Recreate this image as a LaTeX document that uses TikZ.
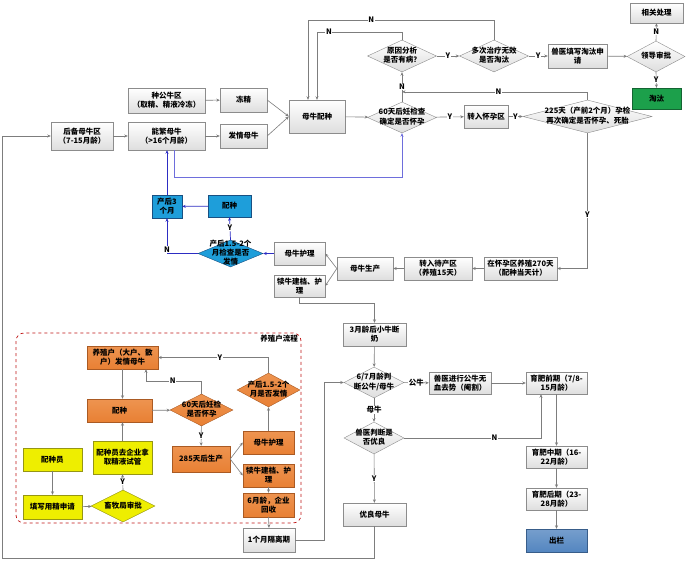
\documentclass[tikz,border=0pt]{standalone}
\usepackage{fontspec}
\newfontfamily\cjk{Noto Sans CJK SC}
\usetikzlibrary{shapes.geometric,arrows.meta,calc}
\definecolor{boxb}{RGB}{140,140,140}
\definecolor{boxg}{RGB}{222,222,222}
\definecolor{conc}{RGB}{125,125,125}
\definecolor{orF}{RGB}{232,128,52}
\definecolor{orT}{RGB}{238,148,80}
\definecolor{orB}{RGB}{170,90,35}
\definecolor{yeF}{RGB}{238,238,0}
\definecolor{yeB}{RGB}{150,150,20}
\definecolor{cyF}{RGB}{30,158,218}
\definecolor{cyB}{RGB}{25,80,130}
\definecolor{grF}{RGB}{28,160,75}
\definecolor{grB}{RGB}{20,100,50}
\definecolor{blF}{RGB}{84,134,192}
\definecolor{blB}{RGB}{56,93,138}
\definecolor{bcon}{RGB}{45,45,195}
\definecolor{bcon2}{RGB}{110,110,220}
\definecolor{dred}{RGB}{192,20,20}
\newcommand\dtx[1]{\smash{\raisebox{-0.25em}{\makebox[0pt]{\begin{tabular}{@{}c@{}}#1\end{tabular}}}}}
\tikzset{
  txt/.style={font=\cjk\bfseries\fontsize{7.5}{9}\selectfont},
  sz/.style 2 args={minimum width=#1,minimum height=#2},
  gbox/.style={txt,align=center,inner sep=1pt,draw=boxb,top color=white,bottom color=boxg},
  obox/.style={txt,align=center,inner sep=1pt,draw=orB,top color=orT,bottom color=orF},
  ybox/.style={txt,align=center,inner sep=1pt,draw=yeB,fill=yeF},
  cbox/.style={txt,align=center,inner sep=1pt,draw=cyB,fill=cyF},
  dia/.style={txt,shape=diamond,inner sep=0pt,draw=boxb,top color=white,bottom color=boxg},
  odia/.style={txt,shape=diamond,inner sep=0pt,draw=orB,top color=orT,bottom color=orF},
  ydia/.style={txt,shape=diamond,inner sep=0pt,draw=yeB,fill=yeF},
  cdia/.style={txt,shape=diamond,inner sep=0pt,draw=cyB,fill=cyF},
  con/.style={draw=conc,line width=0.6pt,-{Stealth[length=3.5pt,width=3pt]}},
  bc/.style={draw=bcon,line width=0.7pt,-{Stealth[length=3.5pt,width=3pt]}},
  bc2/.style={draw=bcon2,line width=0.8pt,-{Stealth[length=3.5pt,width=3pt]}},
  lab/.style={txt,fill=white,inner sep=0.6pt,text=black},
  blab/.style={txt,inner sep=0.6pt,text=black},
}
\begin{document}
\begin{tikzpicture}[x=1pt,y=-1pt]
\fill[white] (0,0) rectangle (686,562);
\useasboundingbox (0,0) rectangle (686,562);
% region
\draw[dred,dashed,line width=0.7pt,rounded corners=8] (16,333) rectangle (301,523);
\node[txt,anchor=north east,inner sep=1pt] (reglab) at (299,334) {养殖户流程};
% top part
\node[gbox,sz={77}{25}] (zhonggong) at (166.5,100.5) {种公牛区\\（取精、精液冷冻）};
\node[gbox,sz={47}{24}] (dongjing) at (243.5,100) {冻精};
\node[gbox,sz={62}{28}] (houbei) at (82,136) {后备母牛区\\（7-15月龄）};
\node[gbox,sz={77}{28}] (nengfan) at (166.5,136) {能繁母牛\\（>16个月龄）};
\node[gbox,sz={47}{24}] (faqing) at (243.5,136) {发情母牛};
\node[gbox,sz={56}{33}] (peizhong) at (317,116.5) {母牛配种};
\node[dia,sz={69}{31}] (sixty) at (402,117.5) {\dtx{60天后妊检查\\确定是否怀孕}};
\node[dia,sz={69}{32}] (yuanyin) at (402,56) {\dtx{原因分析\\是否有病？}};
\node[dia,sz={69}{32}] (duoci) at (494,56) {\dtx{多次治疗无效\\是否淘汰}};
\node[gbox,sz={59}{24}] (shouyi) at (577.5,56) {兽医填写淘汰申\\请};
\node[dia,sz={58}{31}] (lingdao) at (656,56.5) {\dtx{领导审批}};
\node[gbox,sz={53}{20}] (xiangguan) at (656.5,13) {相关处理};
\node[txt,align=center,inner sep=1pt,draw=grB,fill=grF,sz={49}{21}] (taotai) at (656.5,98.5) {淘汰};
\node[gbox,sz={44}{23}] (zhuanru) at (486,116.5) {转入怀孕区};
\node[dia,sz={129}{33}] (d225) at (587.5,116.5) {\dtx{225天（产前2个月）孕检\\再次确定是否怀孕、死胎}};
% middle
\node[gbox,sz={73}{23}] (zaihuai) at (520.5,268.5) {在怀孕区养殖270天\\（配种当天计）};
\node[gbox,sz={68}{23}] (daichan) at (438,268.5) {转入待产区\\（养殖15天）};
\node[gbox,sz={56}{23}] (shengchan) at (365,268.5) {母牛生产};
\node[gbox,sz={51}{23}] (huli) at (299.5,253.5) {母牛护理};
\node[gbox,sz={51}{22}] (duniu) at (299.5,286) {犊牛建档、护\\理};
\node[cdia,sz={65}{27}] (chanhou) at (230.5,253.5) {\dtx{产后1.5-2个\\月检查是否\\发情}};
\node[cbox,sz={30}{23}] (chanhou3) at (167,206.5) {产后3\\个月};
\node[cbox,sz={43}{22}] (peizhongb) at (229.5,206) {配种};
% lower right
\node[gbox,sz={63}{23}] (duannai) at (374.5,334.5) {3月龄后小牛断\\奶};
\node[dia,sz={60}{31}] (panduan) at (374,382.5) {\dtx{6/7月龄判\\断公牛/母牛}};
\node[gbox,sz={62}{22}] (qushi) at (460,383) {兽医进行公牛无\\血去势（阉割）};
\node[gbox,sz={61}{22}] (qianqi) at (556.5,383) {育肥前期（7/8-\\15月龄）};
\node[dia,sz={60}{32}] (youliangd) at (374,438) {\dtx{兽医判断是\\否优良}};
\node[gbox,sz={63}{23}] (youliang) at (374.5,514.5) {优良母牛};
\node[gbox,sz={61}{22}] (zhongqi) at (556.5,457) {育肥中期（16-\\22月龄）};
\node[gbox,sz={61}{22}] (houqi) at (556.5,499) {育肥后期（23-\\28月龄）};
\node[txt,align=center,inner sep=1pt,draw=blB,top color=blF!80!white,bottom color=blF,sz={61}{23}] (chulan) at (556.5,540.5) {出栏};
\node[gbox,sz={52}{24}] (geli) at (269,540) {1个月隔离期};
% farmer region
\node[obox,sz={71}{23}] (yangzhi) at (122.5,357.5) {养殖户（大户、散\\户）发情母牛};
\node[obox,sz={65}{23}] (peizhongo) at (119.5,410.5) {配种};
\node[odia,sz={63}{32}] (d60o) at (201.5,410) {\dtx{60天后妊检\\是否怀孕}};
\node[obox,sz={58}{26}] (sheng285) at (201,459) {285天后生产};
\node[obox,sz={51}{23}] (hulio) at (268.5,442.5) {母牛护理};
\node[obox,sz={51}{23}] (dunio) at (268.5,475.5) {犊牛建档、护\\理};
\node[obox,sz={51}{24}] (huishou) at (268.5,505) {6月龄，企业\\回收};
\node[odia,sz={63}{34}] (d15) at (268.5,390) {\dtx{产后1.5-2个\\月是否发情}};
\node[ybox,sz={59}{23}] (pzy) at (52.5,459.5) {配种员};
\node[ybox,sz={59}{24}] (tianxie) at (52.5,507) {填写用精申请};
\node[ybox,sz={59}{33}] (nana) at (122.5,457.5) {配种员去企业拿\\取精液试管};
\node[ydia,sz={64}{32}] (xumu) at (123,506) {\dtx{畜牧局审批}};
% helper coordinates
\coordinate (pzA) at ($(peizhong.north)+(-9,0)$);
\coordinate (nfA) at ($(nengfan.south)+(7.5,0)$);
\coordinate (qqA) at ($(qianqi.south)+(-15.5,0)$);
\coordinate (yzB) at ($(yangzhi.south)+(23.5,0)$);
\coordinate (botL) at (2,558);
\coordinate (gR) at (324,540);
% connectors top
\draw[con] (houbei) -- (nengfan);
\draw[con] (zhonggong) -- (dongjing);
\draw[con] (nengfan) -- (faqing);
\draw[con] (dongjing.east) -- (peizhong.west);
\draw[con] (faqing.east) -- (peizhong.west);
\draw[con] (peizhong) -- (sixty);
\draw[con] (sixty) -- node[lab]{Y} (zhuanru);
\draw[con] (zhuanru) -- node[lab]{Y} (d225);
\draw[con] (d225.north) |- node[lab,pos=0.74]{N} ($(sixty.north)+(0,-10)$);
\draw[con] (sixty.north) -- node[lab]{N} (yuanyin.south);
\draw[con] (yuanyin) -- node[lab]{Y} (duoci);
\draw[con] (duoci) -- node[lab]{Y} (shouyi);
\draw[con] (shouyi) -- (lingdao);
\draw[con] (lingdao.north) -- node[lab]{N} (xiangguan.south);
\draw[con] (lingdao.south) -- node[lab]{Y} (taotai.north);
\draw[con] (duoci.north) -- ++(0,-20) -| node[lab,pos=0.33]{N} (pzA);
\draw[con] (yuanyin.north) -- ++(0,-8) -| node[lab,pos=0.43]{N} (peizhong.north);
\draw[bc2] (nfA) -- ++(0,27) -| (sixty.south);
% middle connectors
\draw[con] (d225.south) |- node[lab,pos=0.3]{Y} (zaihuai.east);
\draw[con] (zaihuai) -- (daichan);
\draw[con] (daichan) -- (shengchan);
\draw[con] (shengchan.west) -- (huli.east);
\draw[con] (shengchan.west) -- (duniu.east);
\draw[bc] (huli) -- (chanhou);
\draw[bc] (chanhou.north) -- node[blab,pos=0.55,fill=white]{Y} (peizhongb.south);
\draw[bc] (peizhongb) -- (chanhou3);
\draw[bc] (chanhou.west) -| node[blab,pos=0.56,fill=white]{N} (chanhou3.south);
\draw[bc] (chanhou3.north) -- (chanhou3.north |- nengfan.south);
\draw[con] (duniu.south) -- ++(0,6) -| (duannai.north);
% lower right connectors
\draw[con] (duannai) -- (panduan);
\draw[con] (panduan) -- node[lab]{公牛} (qushi);
\draw[con] (qushi) -- (qianqi);
\draw[con] (panduan) -- node[lab]{母牛} (youliangd);
\draw[con] (youliangd.east) -| node[lab,pos=0.33]{N} (qqA);
\draw[con] (youliangd) -- node[lab]{Y} (youliang);
\draw[con] (qianqi) -- (zhongqi);
\draw[con] (zhongqi) -- (houqi);
\draw[con] (houqi) -- (chulan);
\draw[con] (youliang.south) |- (botL) |- (houbei.west);
\draw[con] (geli.east) -- (gR) |- (panduan.west);
% farmer region connectors
\draw[con] (yangzhi.south) -- (yangzhi.south |- peizhongo.north);
\draw[con] (peizhongo) -- (d60o);
\draw[con] (d60o.north) -- ++(0,-13) -| node[lab,pos=0.26]{N} (yzB);
\draw[con] (d60o) -- node[lab]{Y} (sheng285);
\draw[con] (sheng285.east) -- (hulio.west);
\draw[con] (sheng285.east) -- (dunio.west);
\draw[con] (hulio) -- (d15);
\draw[con] (d15.north) |- node[lab,pos=0.72]{Y} (yangzhi.east);
\draw[con] (dunio) -- (huishou);
\draw[con] (huishou.south) -- (geli.north);
\draw[con] (pzy) -- (tianxie);
\draw[con] (tianxie) -- (xumu);
\draw[con] (xumu.north) -- node[lab]{Y} (nana.south);
\draw[con] (nana.north) -- (nana.north |- peizhongo.south);
\end{tikzpicture}
\end{document}
